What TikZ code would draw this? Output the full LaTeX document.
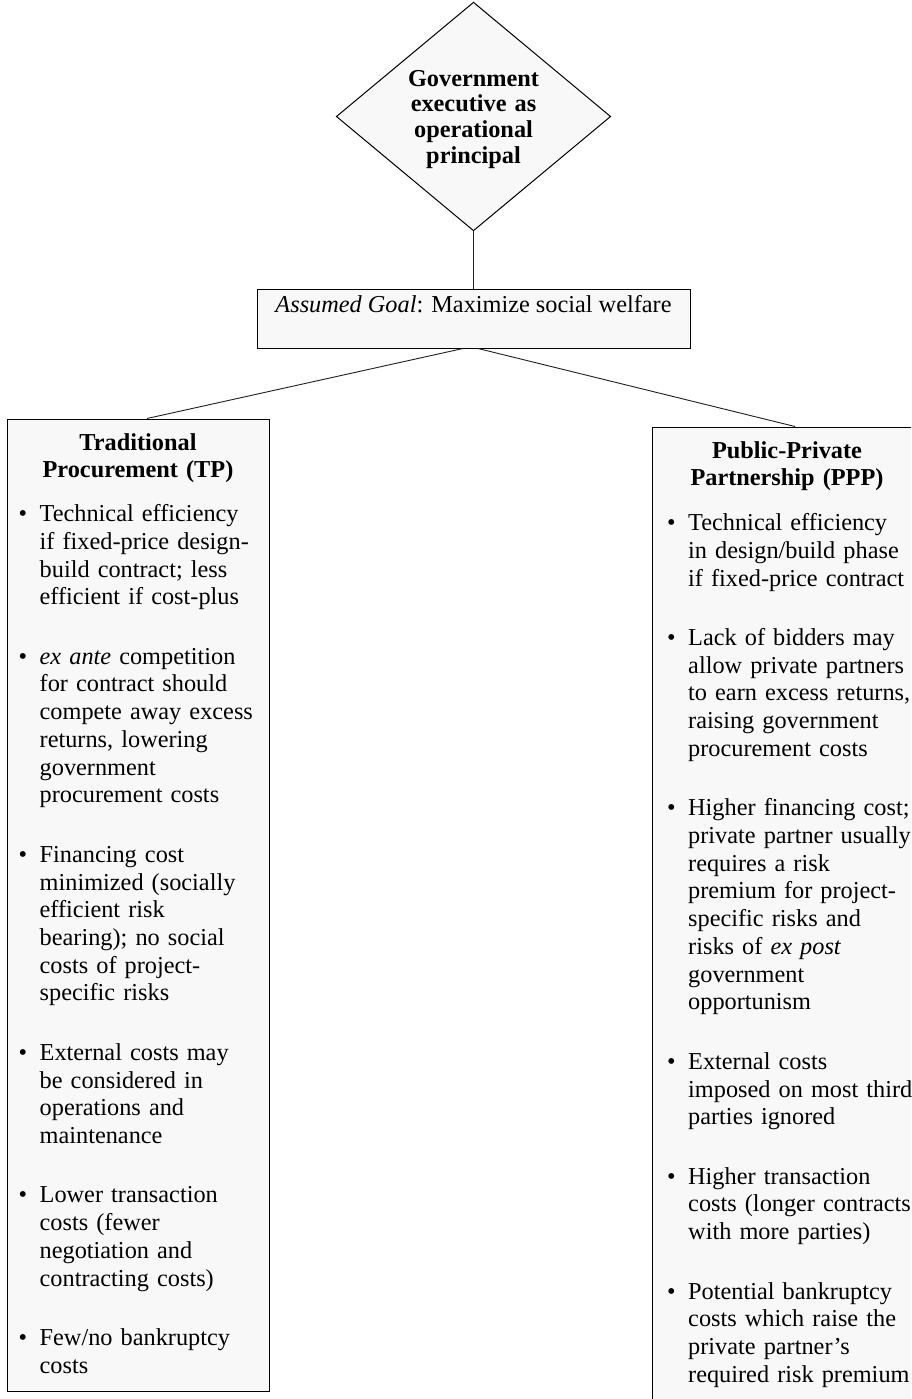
\documentclass[tikz,border=0pt]{standalone}
\usepackage{fontspec}
\setmainfont{Liberation Serif}
\usetikzlibrary{shapes.geometric}
\definecolor{boxfill}{RGB}{248,248,248}
\definecolor{edgecol}{RGB}{30,30,30}
\newcommand\itembul{\noindent\strut\llap{\textbullet\hspace{12.5pt}}}
\begin{document}
\begin{tikzpicture}[x=1pt,y=-1pt,
  boxline/.style={draw=black, line width=1pt, fill=boxfill},
  link/.style={draw=edgecol, line width=0.9pt},
  body/.style={font=\fontsize{24.3}{27.7}\selectfont, anchor=north west, inner sep=0pt, text width=235pt, align=left},
  head/.style={font=\fontsize{24.3}{27.7}\selectfont\bfseries, anchor=north, inner sep=0pt, text width=250pt, align=center}]
\useasboundingbox (0,0) rectangle (911,1399);
\clip (0,0) rectangle (911,1399);
\fill[white] (0,0) rectangle (911,1399);

% top diamond
\node[boxline, diamond, aspect=1.2, minimum width=267pt, minimum height=221pt, inner sep=0pt,
      text width=150pt, align=center, font=\fontsize{24.3}{25.7}\selectfont\bfseries]
  (gov) at (473.5,116.5) {\rule{0pt}{21.4pt}Government\\executive as\\operational\\principal};

% goal box
\node[boxline, rectangle, minimum width=433pt, minimum height=59pt, inner sep=0pt,
      text height=17pt, text depth=30pt, font=\fontsize{24.3}{27.7}\selectfont]
  (goal) at (473.5,318.5) {\textit{Assumed Goal}: Maximize social welfare};

% column boxes
\node[boxline, rectangle, minimum width=262pt, minimum height=972pt, inner sep=0pt] (tp) at (138,905) {};
\node[boxline, rectangle, minimum width=270pt, minimum height=1000pt, inner sep=0pt] (ppp) at (787,927) {};

% connectors
\draw[link] (gov.south) -- (goal.north);
\draw[link] ([xshift=-10.5pt]goal.south) -- ([xshift=9pt]tp.north);
\draw[link] ([xshift=4.5pt]goal.south) -- ([xshift=8pt]ppp.north);

% headings
\node[head] (tph) at (138,430.6) {\strut Traditional\\Procurement (TP)};
\node[head] (ppph) at (787,438.6) {\strut Public-Private\\Partnership (PPP)};

% TP items
\node[body] (tp1) at (39.5,502.1) {\itembul Technical efficiency\\if fixed-price design-\\build contract; less\\efficient if cost-plus};
\node[body] (tp2) at (39.5,644.7) {\itembul \textit{ex ante} competition\\for contract should\\compete away excess\\returns, lowering\\government\\procurement costs};
\node[body] (tp3) at (39.5,842.7) {\itembul Financing cost\\minimized (socially\\efficient risk\\bearing); no social\\costs of project-\\specific risks};
\node[body] (tp4) at (39.5,1040.7) {\itembul External costs may\\be considered in\\operations and\\maintenance};
\node[body] (tp5) at (39.5,1183.3) {\itembul Lower transaction\\costs (fewer\\negotiation and\\contracting costs)};
\node[body] (tp6) at (39.5,1325.9) {\itembul Few/no bankruptcy\\costs};

% PPP items
\node[body] (ppp1) at (688,511.1) {\itembul Technical efficiency\\in design/build phase\\if fixed-price contract};
\node[body] (ppp2) at (688,626.0) {\itembul Lack of bidders may\\allow private partners\\to earn excess returns,\\raising government\\procurement costs};
\node[body] (ppp3) at (688,796.3) {\itembul Higher financing cost;\\private partner usually\\requires a risk\\premium for project-\\specific risks and\\risks of \textit{ex post}\\government\\opportunism};
\node[body] (ppp4) at (688,1049.7) {\itembul External costs\\imposed on most third\\parties ignored};
\node[body] (ppp5) at (688,1164.6) {\itembul Higher transaction\\costs (longer contracts\\with more parties)};
\node[body] (ppp6) at (688,1279.5) {\itembul Potential bankruptcy\\costs which raise the\\private partner’s\\required risk premium};
\end{tikzpicture}
\end{document}
